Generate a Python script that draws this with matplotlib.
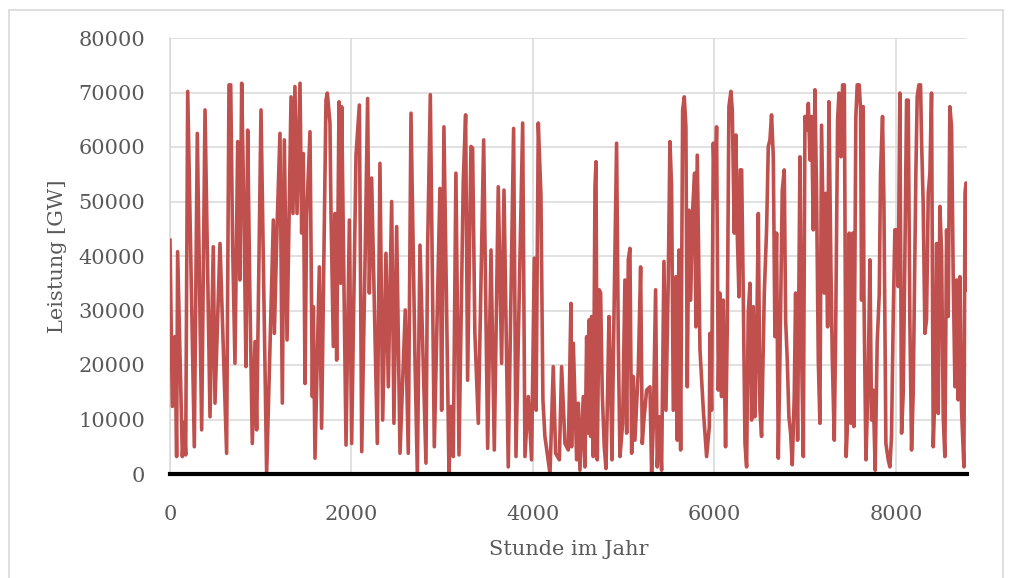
import matplotlib
matplotlib.use("Agg")
import matplotlib.pyplot as plt
from matplotlib.patches import Rectangle

# Hour of the year and power output at the turning points of the series
hours = [
    0, 26, 55, 73, 84, 136, 155, 173, 195, 268, 301, 349, 386, 441, 477, 496, 551, 624, 650, 669,
    690, 716, 746, 770, 790, 815, 837, 856, 880, 907, 937, 955, 1003, 1065, 1139, 1150, 1180, 1212, 1238, 1260,
    1290, 1334, 1355, 1377, 1400, 1433, 1451, 1469, 1488, 1506, 1543, 1569, 1580, 1598, 1646, 1671, 1719, 1734, 1763, 1774,
    1800, 1819, 1837, 1863, 1881, 1892, 1940, 1977, 2002, 2050, 2087, 2113, 2150, 2178, 2197, 2222, 2285, 2314, 2344, 2380,
    2406, 2443, 2468, 2498, 2535, 2593, 2626, 2656, 2700, 2726, 2755, 2821, 2839, 2869, 2913, 2975, 2994, 3019, 3075, 3096,
    3122, 3151, 3185, 3232, 3258, 3280, 3317, 3335, 3360, 3398, 3457, 3501, 3538, 3574, 3618, 3655, 3681, 3728, 3787, 3813,
    3887, 3912, 3949, 3985, 4015, 4035, 4059, 4088, 4110, 4132, 4188, 4224, 4250, 4291, 4316, 4353, 4390, 4419, 4426, 4445,
    4482, 4500, 4518, 4555, 4573, 4592, 4610, 4621, 4636, 4647, 4665, 4684, 4695, 4709, 4731, 4746, 4764, 4786, 4805, 4819,
    4838, 4856, 4871, 4886, 4922, 4941, 4959, 4989, 5014, 5033, 5051, 5069, 5088, 5106, 5124, 5161, 5187, 5205, 5223, 5253,
    5290, 5308, 5326, 5352, 5370, 5393, 5418, 5444, 5466, 5492, 5510, 5528, 5547, 5576, 5591, 5609, 5628, 5650, 5668, 5686,
    5701, 5719, 5738, 5760, 5782, 5796, 5811, 5841, 5878, 5914, 5944, 5951, 5969, 5988, 6006, 6024, 6043, 6061, 6079, 6098,
    6123, 6142, 6160, 6182, 6197, 6219, 6237, 6252, 6271, 6285, 6300, 6318, 6337, 6355, 6373, 6392, 6410, 6428, 6447, 6465,
    6484, 6502, 6520, 6550, 6575, 6594, 6612, 6630, 6649, 6667, 6685, 6704, 6722, 6748, 6770, 6785, 6803, 6821, 6840, 6858,
    6880, 6895, 6917, 6943, 6961, 6980, 6998, 7016, 7035, 7053, 7071, 7090, 7108, 7126, 7145, 7163, 7181, 7211, 7226, 7248,
    7262, 7284, 7299, 7321, 7336, 7358, 7373, 7395, 7413, 7432, 7440, 7452, 7464, 7486, 7504, 7523, 7537, 7559, 7574, 7596,
    7611, 7622, 7640, 7648, 7670, 7695, 7714, 7732, 7750, 7772, 7794, 7817, 7831, 7853, 7868, 7890, 7916, 7934, 7952, 7971,
    7989, 8008, 8026, 8044, 8063, 8081, 8099, 8118, 8136, 8154, 8173, 8191, 8221, 8235, 8254, 8272, 8283, 8301, 8320, 8338,
    8357, 8375, 8393, 8412, 8430, 8449, 8467, 8485, 8504, 8522, 8540, 8559, 8577, 8595, 8614, 8632, 8651, 8669, 8687, 8706,
    8724, 8750, 8762, 8773, 8784,
]

power_gw = [
    42900, 12400, 25200, 3200, 40800, 3200, 9500, 3500, 70200, 5000, 62500, 8100, 66800, 10500, 41700, 13000, 42300, 3800, 71400, 71400,
    42300, 20300, 61000, 35600, 71700, 47800, 19700, 63100, 33200, 5600, 24300, 8100, 66800, 100, 46600, 25800, 45400, 62500, 13000, 61300,
    24600, 69200, 47800, 71100, 47800, 71700, 44200, 58800, 16600, 47200, 62800, 14200, 30700, 2900, 38000, 8400, 68600, 69900, 64400, 48400,
    23400, 47800, 20900, 68300, 35000, 67400, 5300, 46600, 5600, 58500, 67700, 4100, 39300, 68900, 33200, 54300, 5600, 57000, 9900, 40500,
    16000, 50000, 9300, 45400, 3800, 30100, 3800, 66200, 20900, 100, 42000, 2000, 41100, 69600, 5000, 52400, 11700, 63700, 100, 12400,
    3200, 55200, 3500, 53600, 65900, 17200, 60100, 59800, 25800, 9300, 61300, 4700, 41100, 4400, 52700, 20300, 52100, 1300, 63400, 3200,
    64400, 3200, 14200, 2600, 39600, 11700, 64400, 51200, 13600, 6900, 100, 19700, 3800, 2600, 19700, 5600, 4400, 31300, 5000, 24000,
    2600, 13000, 700, 14200, 1300, 25200, 7500, 28300, 6900, 28900, 3200, 52700, 57300, 2600, 33800, 33200, 14800, 5000, 1000, 11700,
    28900, 17200, 2600, 20900, 60700, 24000, 3200, 9300, 35600, 7500, 39300, 41400, 3800, 17900, 6200, 19100, 38000, 5600, 9900, 15400,
    16000, 100, 8700, 33800, 1300, 10500, 700, 39000, 11700, 36200, 61000, 52700, 11700, 36200, 6200, 41100, 4400, 66800, 69200, 63700,
    16000, 48400, 31900, 48400, 55200, 27000, 58500, 22800, 11700, 3200, 8700, 25800, 11700, 60700, 50600, 63700, 15400, 33200, 14200, 31900,
    5000, 27000, 67400, 70200, 66800, 44200, 62200, 44200, 32500, 55800, 55800, 33200, 5600, 1300, 29500, 35000, 9900, 30700, 10500, 23400,
    47800, 11700, 6900, 33200, 44800, 60100, 61300, 65900, 58200, 25200, 44200, 2900, 20900, 52100, 55800, 28300, 20900, 10500, 7500, 1700,
    14200, 33200, 6200, 58200, 22100, 3200, 65600, 63100, 68000, 57600, 65600, 44800, 70500, 51500, 20900, 9300, 64000, 33200, 51500, 27000,
    68300, 38000, 21500, 6200, 25200, 65000, 69900, 58200, 71400, 71400, 43600, 3200, 8000, 44200, 9300, 44200, 8700, 65600, 71400, 71400,
    66800, 31900, 67400, 33200, 2600, 17200, 39300, 9900, 15400, 700, 24000, 33200, 55200, 65600, 50300, 5600, 2600, 1300, 6900, 28900,
    44800, 44800, 34400, 69900, 7500, 14800, 39300, 68600, 68600, 28300, 4400, 14800, 55800, 69200, 71400, 71400, 61300, 49700, 25800, 28300,
    51500, 55200, 69900, 5000, 14800, 42300, 11100, 49100, 40500, 10500, 3200, 44800, 28900, 67400, 63700, 36200, 16000, 35600, 13600, 36200,
    11700, 1300, 51500, 53400, 33800,
]

y_ticks = [0, 10000, 20000, 30000, 40000, 50000, 60000, 70000, 80000]
x_ticks = [0, 2000, 4000, 6000, 8000]

text_color = "#595959"
grid_color = "#D9D9D9"
line_color = "#C0504D"
font = "DejaVu Serif"

fig = plt.figure(figsize=(10.11, 5.78), dpi=100)
fig.patch.set_facecolor("white")

# Light frame around the chart area
fig.patches.append(Rectangle((9 / 1011, -0.05), 994 / 1011, 1.05 - 10 / 578,
                             transform=fig.transFigure, fill=False,
                             edgecolor="#D9D9D9", linewidth=1.2))

ax = fig.add_axes([170 / 1011, 1 - 474 / 578, 797 / 1011, 436 / 578])
ax.plot(hours, power_gw, color=line_color, linewidth=2.6, solid_joinstyle="round", zorder=3)

ax.set_xlim(0, 8784)
ax.set_ylim(0, 80000)
ax.set_xticks(x_ticks)
ax.set_yticks(y_ticks)
ax.set_xticklabels([str(t) for t in x_ticks], fontfamily=font, fontsize=15, color=text_color)
ax.set_yticklabels([str(t) for t in y_ticks], fontfamily=font, fontsize=15, color=text_color)
ax.tick_params(axis="both", length=0)
ax.tick_params(axis="y", pad=18)
ax.tick_params(axis="x", pad=22)

ax.grid(True, color=grid_color, linewidth=1.1, zorder=0)
ax.set_axisbelow(True)
for side in ("top", "right"):
    ax.spines[side].set_visible(False)
ax.spines["left"].set_color(grid_color)
ax.spines["left"].set_linewidth(1.1)
ax.spines["bottom"].set_color("black")
ax.spines["bottom"].set_linewidth(3)
ax.spines["bottom"].set_zorder(4)

ax.set_xlabel("Stunde im Jahr", fontfamily=font, fontsize=15, color=text_color, labelpad=12)
ax.set_ylabel("Leistung [GW]", fontfamily=font, fontsize=15, color=text_color, labelpad=8)

fig.savefig("out.png", dpi=100)
